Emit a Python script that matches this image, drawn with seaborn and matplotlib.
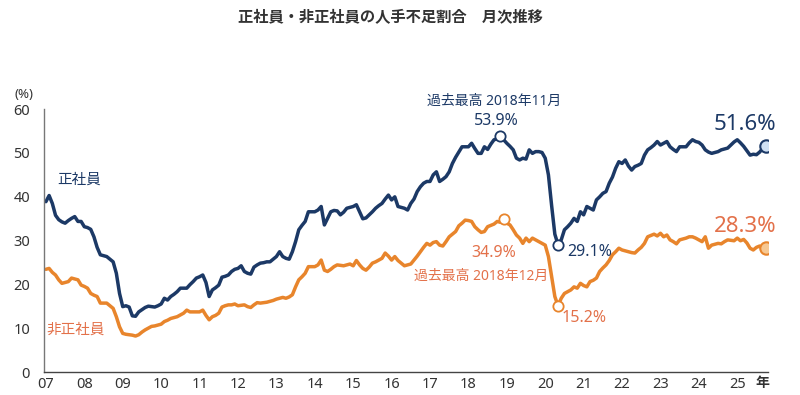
import numpy as np
import pandas as pd
import matplotlib
matplotlib.use("Agg")
import matplotlib.pyplot as plt
import seaborn as sns

# monthly data, Jan 2007 - Oct 2025 (%)
years = list(range(2007, 2026))
year_labels = [f"{y % 100:02d}" for y in years]

seishain = [
    38.9, 40.3, 38.5, 35.8, 34.8, 34.3, 34.0, 34.6, 35.1, 35.5, 34.4, 34.4,  # 2007
    33.2, 33.0, 32.6, 30.9, 28.5, 26.8, 26.6, 26.4, 25.8, 25.2, 22.6, 18.0,  # 2008
    15.0, 15.2, 14.9, 12.9, 12.8, 13.8, 14.3, 14.8, 15.1, 15.0, 14.9, 15.2,  # 2009
    15.6, 16.9, 16.5, 17.3, 17.8, 18.4, 19.2, 19.2, 19.2, 20.0, 20.7, 21.5,  # 2010
    21.8, 22.2, 20.5, 17.3, 18.8, 19.3, 19.9, 21.7, 21.9, 22.2, 23.0, 23.5,  # 2011
    23.7, 24.3, 23.0, 22.6, 22.4, 24.0, 24.5, 24.9, 25.0, 25.2, 25.2, 25.8,  # 2012
    26.4, 27.5, 26.4, 26.0, 25.8, 27.5, 29.8, 32.5, 33.5, 34.4, 36.6, 36.6,  # 2013
    36.6, 37.0, 37.8, 33.6, 35.1, 36.6, 36.9, 36.8, 35.9, 36.5, 37.4, 37.6,  # 2014
    37.8, 38.2, 36.6, 35.0, 35.2, 35.9, 36.6, 37.4, 38.0, 38.5, 39.5, 40.4,  # 2015
    39.3, 40.0, 37.8, 37.6, 37.4, 37.0, 38.5, 39.5, 41.2, 42.3, 43.1, 43.5,  # 2016
    43.5, 45.0, 45.7, 43.5, 44.0, 44.6, 45.7, 47.6, 49.0, 50.2, 51.4, 51.4,  # 2017
    51.4, 52.2, 51.0, 49.9, 49.9, 51.4, 50.8, 52.0, 53.0, 53.2, 53.9, 53.0,  # 2018
    52.2, 51.5, 50.7, 48.8, 48.4, 48.8, 48.6, 50.7, 49.9, 50.3, 50.3, 50.1,  # 2019
    48.8, 45.0, 38.0, 31.5, 29.1, 30.2, 32.5, 33.2, 34.0, 35.1, 34.4, 36.6,  # 2020
    35.9, 37.8, 37.4, 37.0, 39.3, 40.0, 40.8, 41.2, 43.1, 44.5, 46.5, 48.0,  # 2021
    47.6, 48.4, 47.0, 46.1, 46.9, 47.2, 47.6, 49.5, 50.7, 51.2, 51.8, 52.6,  # 2022
    51.8, 52.2, 52.6, 51.4, 50.8, 50.3, 51.4, 51.4, 51.4, 52.3, 53.0, 52.6,  # 2023
    52.4, 51.8, 50.7, 50.2, 49.9, 50.1, 50.3, 50.7, 50.9, 51.1, 51.8, 52.5,  # 2024
    53.0, 52.3, 51.5, 50.5, 49.5, 49.7, 49.6, 50.2, 51.1, 51.6,              # 2025
]

hiseishain = [
    23.5, 23.7, 22.8, 22.2, 21.1, 20.3, 20.5, 20.7, 21.5, 21.3, 21.1, 19.9,  # 2007
    19.6, 19.2, 18.0, 17.6, 17.3, 15.8, 15.8, 15.8, 15.2, 14.6, 12.7, 10.4,  # 2008
    8.9, 8.7, 8.6, 8.5, 8.3, 8.6, 9.2, 9.7, 10.1, 10.5, 10.6, 10.8,          # 2009
    11.0, 11.6, 11.9, 12.3, 12.5, 12.7, 13.1, 13.5, 14.2, 13.8, 13.8, 13.8,  # 2010
    13.8, 14.2, 13.0, 12.0, 12.7, 13.0, 13.5, 14.9, 15.2, 15.4, 15.4, 15.6,  # 2011
    15.2, 15.3, 15.4, 15.0, 14.8, 15.4, 15.9, 15.8, 15.9, 16.0, 16.2, 16.4,  # 2012
    16.7, 16.9, 17.1, 16.9, 17.2, 17.7, 19.5, 21.1, 21.8, 22.6, 24.1, 24.1,  # 2013
    24.1, 24.5, 25.6, 23.3, 23.0, 23.5, 24.1, 24.5, 24.4, 24.3, 24.5, 24.7,  # 2014
    24.3, 25.5, 24.5, 23.7, 23.3, 24.0, 24.9, 25.2, 25.6, 26.0, 27.2, 26.5,  # 2015
    25.6, 26.4, 25.5, 24.9, 24.3, 24.5, 24.7, 25.6, 26.5, 27.5, 28.5, 29.4,  # 2016
    29.0, 29.6, 29.8, 29.0, 28.8, 29.8, 30.9, 31.5, 32.1, 33.4, 34.0, 34.7,  # 2017
    34.6, 34.4, 33.2, 32.5, 31.9, 32.1, 33.2, 33.5, 33.8, 34.4, 34.2, 34.9,  # 2018
    34.0, 33.6, 32.5, 31.3, 30.6, 29.4, 30.6, 29.8, 30.6, 30.2, 29.8, 29.4,  # 2019
    29.0, 26.4, 21.8, 17.3, 15.2, 16.9, 18.0, 18.4, 18.8, 19.5, 19.2, 20.3,  # 2020
    19.8, 19.5, 20.7, 21.0, 21.5, 23.0, 23.8, 24.5, 25.5, 26.8, 27.5, 28.3,  # 2021
    27.9, 27.7, 27.5, 27.3, 27.2, 27.9, 28.5, 29.4, 30.9, 31.2, 31.5, 31.1,  # 2022
    31.7, 30.9, 31.3, 30.2, 29.8, 29.3, 30.2, 30.4, 30.6, 30.9, 30.9, 30.6,  # 2023
    30.2, 29.8, 30.9, 28.3, 29.0, 29.2, 29.4, 29.3, 29.8, 30.2, 30.1, 30.0,  # 2024
    30.6, 30.0, 30.3, 29.5, 28.3, 27.9, 28.5, 28.8, 28.0, 28.3,              # 2025
]

navy = "#1c3966"
orange = "#e8852c"
orange_txt = "#e3714a"

sns.set_style("white")
plt.rcParams["font.family"] = ["Noto Sans", "Noto Sans CJK JP", "DejaVu Sans"]

months = np.arange(len(seishain))
df = pd.DataFrame({"month": months, "正社員": seishain, "非正社員": hiseishain})
long_df = df.melt(id_vars="month", var_name="区分", value_name="割合")

fig = plt.figure(figsize=(8, 3.95), dpi=100)
ax = fig.add_axes([0.055, 0.057, 0.905, 0.667])

sns.lineplot(data=long_df, x="month", y="割合", hue="区分",
             palette={"正社員": navy, "非正社員": orange},
             linewidth=2.5, legend=False, ax=ax)

# highlighted points
s = np.array(seishain)
h = np.array(hiseishain)
i_smax = int(np.argmax(s))
i_hmax = int(np.argmax(h))
i_smin = 156 + int(np.argmin(s[156:168]))
i_hmin = 156 + int(np.argmin(h[156:168]))
last = len(s) - 1

sns.scatterplot(x=[i_smax, i_smin], y=[s[i_smax], s[i_smin]], s=55,
                color="white", edgecolor=navy, linewidth=1.3, zorder=5, ax=ax)
sns.scatterplot(x=[i_hmax, i_hmin], y=[h[i_hmax], h[i_hmin]], s=55,
                color="white", edgecolor=orange, linewidth=1.3, zorder=5, ax=ax)
sns.scatterplot(x=[last], y=[s[last]], s=80, color="#cfe0f3",
                edgecolor=navy, linewidth=1.5, zorder=5, ax=ax)
sns.scatterplot(x=[last], y=[h[last]], s=80, color="#f7c892",
                edgecolor=orange, linewidth=1.5, zorder=5, ax=ax)

ax.set_xlim(-0.6, 225.6)
ax.set_ylim(0, 60)
ax.set_xticks([12 * i for i in range(len(years))])
ax.set_xticklabels(year_labels)
ax.set_yticks(range(0, 61, 10))
ax.set_xlabel("")
ax.set_ylabel("")
ax.tick_params(axis="both", length=0, labelsize=10.5, colors="#333333")
ax.tick_params(axis="y", pad=10)
ax.tick_params(axis="x", pad=3)
for lab in ax.get_xticklabels():
    lab.set_fontweight("bold")
for side in ["top", "right"]:
    ax.spines[side].set_visible(False)
ax.spines["left"].set_color("#777777")
ax.spines["bottom"].set_color("#444444")
ax.spines["left"].set_linewidth(1)
ax.spines["bottom"].set_linewidth(1)

# texts
ax.text(223.8, -2.6, "年", ha="center", va="center", fontsize=10,
        fontweight="bold", color="#333333", clip_on=False)
ax.text(-6.9, 63.2, "(%)", ha="center", va="center", fontsize=9.5,
        color="#333333", clip_on=False)

ax.text(140, 61.7, "過去最高 2018年11月", ha="center", va="center",
        fontsize=10, color=navy, clip_on=False)
ax.text(140.6, 57.2, f"{s[i_smax]:.1f}%", ha="center", va="center",
        fontsize=11.5, color=navy)
ax.text(169.8, 27.4, f"{s[i_smin]:.1f}%", ha="center", va="center",
        fontsize=11.5, color=navy)
ax.text(218.4, 56.5, f"{s[last]:.1f}%", ha="center", va="center",
        fontsize=16, color=navy)

ax.text(140, 27.2, f"{h[i_hmax]:.1f}%", ha="center", va="center",
        fontsize=11.5, color=orange_txt)
ax.text(136, 21.8, "過去最高 2018年12月", ha="center", va="center",
        fontsize=10, color=orange_txt)
ax.text(168.2, 12.4, f"{h[i_hmin]:.1f}%", ha="center", va="center",
        fontsize=11.5, color=orange_txt)
ax.text(218.4, 33.2, f"{h[last]:.1f}%", ha="center", va="center",
        fontsize=16, color=orange_txt)

ax.text(10.3, 43.9, "正社員", ha="center", va="center", fontsize=10.5,
        color=navy)
ax.text(9.4, 9.7, "非正社員", ha="center", va="center", fontsize=10.5,
        color=orange_txt)

fig.text(0.4875, 0.953, "正社員・非正社員の人手不足割合　月次推移", ha="center",
         va="center", fontsize=11, fontweight="bold", color="#333333")

fig.savefig("out.png", dpi=100)
